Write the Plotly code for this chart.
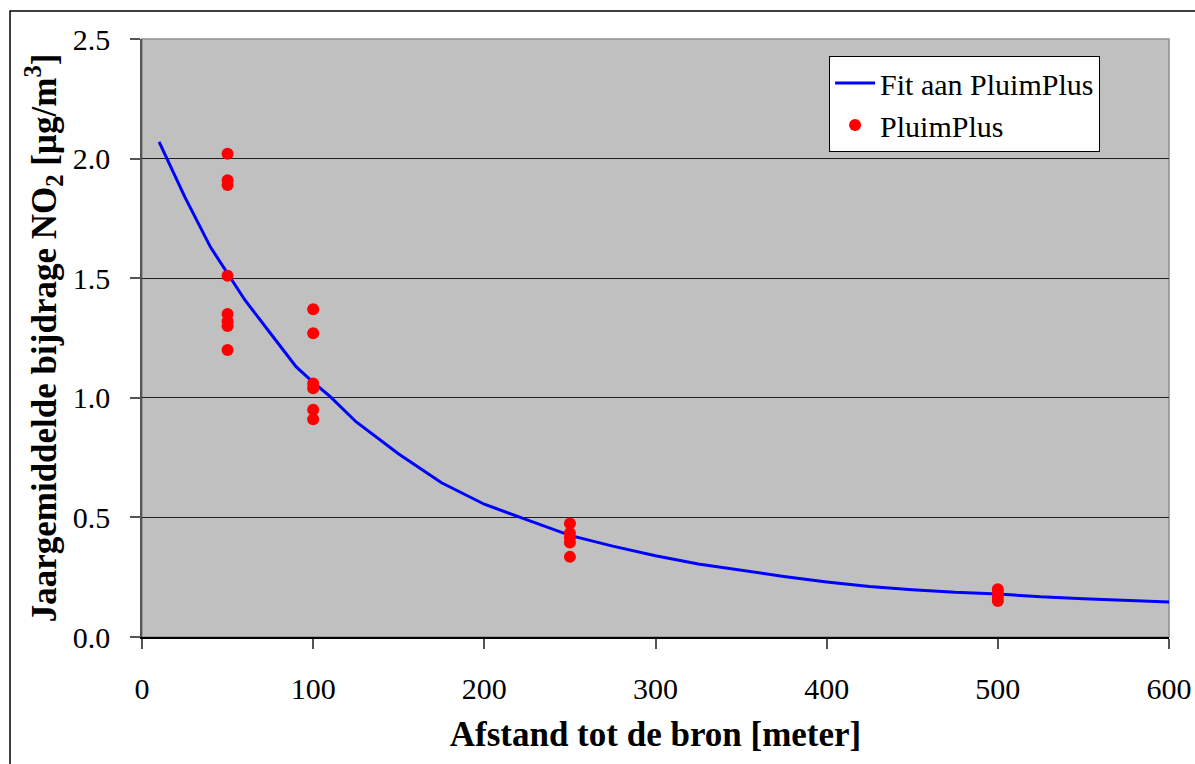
import plotly.graph_objects as go

# Fitted curve ("Fit aan PluimPlus")
fit_x = [10, 25, 40, 50, 60, 75, 90, 100, 110, 125, 150, 175, 200, 225, 250,
         275, 300, 325, 350, 375, 400, 425, 450, 475, 500, 525, 550, 575, 605]
fit_y = [2.07, 1.84, 1.63, 1.52, 1.41, 1.27, 1.13, 1.065, 1.005, 0.90, 0.765,
         0.645, 0.555, 0.49, 0.425, 0.38, 0.34, 0.305, 0.278, 0.253, 0.23, 0.211,
         0.198, 0.187, 0.18, 0.168, 0.16, 0.153, 0.145]

# PluimPlus model points
pp_x = [50, 50, 50, 50, 50, 50, 50, 50,
        100, 100, 100, 100, 100, 100,
        250, 250, 250, 250, 250,
        500, 500, 500, 500]
pp_y = [2.02, 1.91, 1.89, 1.51, 1.35, 1.32, 1.30, 1.20,
        1.37, 1.27, 1.06, 1.04, 0.95, 0.91,
        0.475, 0.435, 0.415, 0.395, 0.335,
        0.20, 0.185, 0.165, 0.15]

x_ticks = [0, 100, 200, 300, 400, 500, 600]
y_ticks = [0.0, 0.5, 1.0, 1.5, 2.0, 2.5]

FONT = "Liberation Serif, Times New Roman, serif"

fig = go.Figure()
fig.add_trace(go.Scatter(
    x=fit_x, y=fit_y, mode="lines", name="Fit aan PluimPlus",
    line=dict(color="#0000FF", width=3), cliponaxis=False,
))
fig.add_trace(go.Scatter(
    x=pp_x, y=pp_y, mode="markers", name="PluimPlus",
    marker=dict(color="#FF0000", size=12, line=dict(width=0)),
))

fig.update_layout(
    width=1195, height=764,
    margin=dict(l=142, r=26, t=39, b=127, autoexpand=False),
    paper_bgcolor="white",
    plot_bgcolor="#C0C0C0",
    font=dict(family=FONT, color="black", size=30),
    showlegend=True,
    legend=dict(
        x=0.669, y=0.9716, xanchor="left", yanchor="top",
        bgcolor="white", bordercolor="black", borderwidth=1,
        font=dict(family=FONT, size=30, color="black"),
        itemwidth=40,
    ),
    xaxis=dict(
        range=[0, 600], tickvals=x_ticks, ticktext=[str(v) for v in x_ticks],
        showgrid=False, zeroline=False, automargin=False,
        showline=True, linecolor="black", linewidth=1.5,
        ticks="outside", ticklen=10, tickcolor="#555555", tickwidth=1.5,
        tickfont=dict(family=FONT, size=30),
        ticklabelstandoff=14,
        title=dict(text="Afstand tot de bron [meter]",
                   font=dict(family=FONT, size=35, weight="bold"),
                   standoff=18),
    ),
    yaxis=dict(
        range=[0, 2.5], tickvals=y_ticks, ticktext=[f"{v:.1f}" for v in y_ticks],
        showgrid=True, gridcolor="#202020", gridwidth=1,
        zeroline=False, automargin=False,
        showline=True, linecolor="#555555", linewidth=1.5,
        ticks="outside", ticklen=10, tickcolor="#555555", tickwidth=1.5,
        tickfont=dict(family=FONT, size=30),
        ticklabelstandoff=14,
        title=dict(text="Jaargemiddelde bijdrage NO<sub>2</sub> [µg/m<sup>3</sup>]",
                   font=dict(family=FONT, size=35, weight="bold"),
                   standoff=6),
    ),
    shapes=[
        dict(type="rect", xref="paper", yref="paper",
             x0=0, x1=1, y0=0, y1=1,
             line=dict(color="#909090", width=1.5), layer="below"),
        dict(type="rect", xref="paper", yref="paper",
             x0=-0.1285, x1=1.05, y0=-0.3, y1=1.0468,
             line=dict(color="black", width=1.5), layer="above"),
    ],
)

fig.write_html(
    "out.html",
    config={"displayModeBar": False},
    post_script="document.body.style.margin='0px';document.body.style.overflow='hidden';",
)
